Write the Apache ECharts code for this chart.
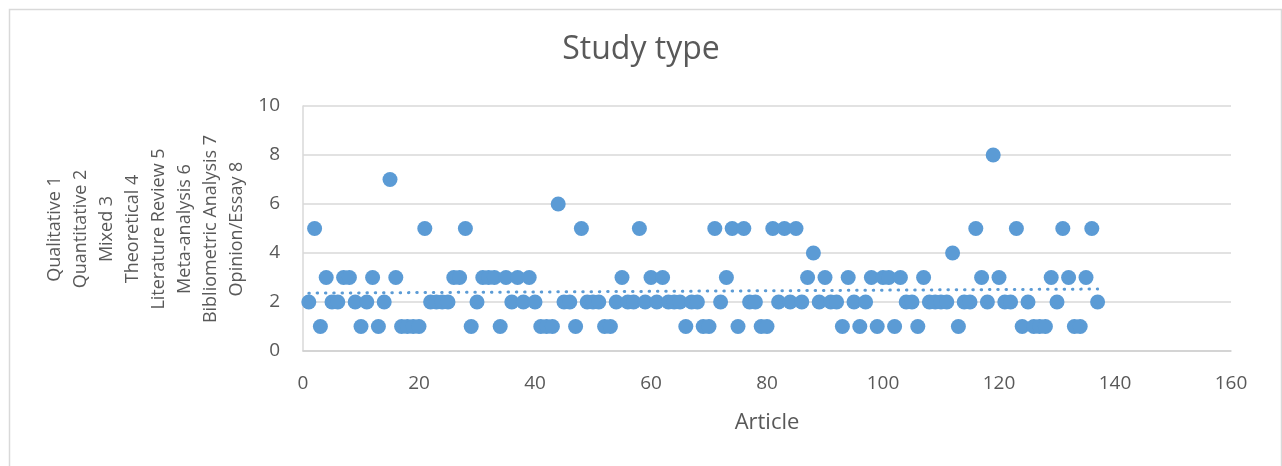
<!DOCTYPE html>
<html>
<head>
<meta charset="utf-8">
<script src="https://cdn.jsdelivr.net/npm/echarts@6/dist/echarts.min.js"></script>
<style>
html,body{margin:0;padding:0;background:#fff;}
#chart{width:1282px;height:466px;}
</style>
</head>
<body>
<div id="chart"></div>
<script>
// Study type code per article (article number = index + 1)
const studyTypes = [
  2,5,1,3,2,2,3,3,2,1,
  2,3,1,2,7,3,1,1,1,1,
  5,2,2,2,2,3,3,5,1,2,
  3,3,3,1,3,2,3,2,3,2,
  1,1,1,6,2,2,1,5,2,2,
  2,1,1,2,3,2,2,5,2,3,
  2,3,2,2,2,1,2,2,1,1,
  5,2,3,5,1,5,2,2,1,1,
  5,2,5,2,5,2,3,4,2,3,
  2,2,1,3,2,1,2,3,1,3,
  3,1,3,2,2,1,3,2,2,2,
  2,4,1,2,2,5,3,2,8,3,
  2,2,5,1,2,1,1,1,3,2,
  5,3,1,1,3,5,2
];
const articles = studyTypes.map((v, i) => i + 1);
const yAxisLegendLines = [
  'Qualitative 1', 'Quantitative 2', 'Mixed 3', 'Theoretical 4',
  'Literature Review 5', 'Meta-analysis 6', 'Bibliometric Analysis 7', 'Opinion/Essay 8'
];
const titleText = 'Study type';
const xAxisName = 'Article';

// linear trendline (least squares) from the data
const n = articles.length;
let sx = 0, sy = 0, sxx = 0, sxy = 0;
for (let i = 0; i < n; i++) {
  sx += articles[i]; sy += studyTypes[i];
  sxx += articles[i] * articles[i]; sxy += articles[i] * studyTypes[i];
}
const slope = (n * sxy - sx * sy) / (n * sxx - sx * sx);
const intercept = (sy - slope * sx) / n;
const xFirst = articles[0], xLast = articles[n - 1];
const trend = [[xFirst, intercept + slope * xFirst], [xLast, intercept + slope * xLast]];

const pts = articles.map((x, i) => [x, studyTypes[i]]);
const FONT = '"Open Sans", "Noto Sans", sans-serif';
const TXT = '#595959';

const chart = echarts.init(document.getElementById('chart'), null, {renderer: 'canvas'});
chart.setOption({
  animation: false,
  backgroundColor: '#ffffff',
  textStyle: {fontFamily: FONT},
  graphic: [{
    type: 'rect', left: 7, top: 7, silent: true, z: -10,
    shape: {width: 1272, height: 475},
    style: {fill: 'none', stroke: '#D9D9D9', lineWidth: 1.5}
  }, {
    type: 'text', x: 146, y: 229, rotation: Math.PI / 2, silent: true,
    style: {
      text: yAxisLegendLines.join('\n'),
      font: '18px "Open Sans", "Noto Sans", sans-serif',
      fill: TXT, align: 'center', verticalAlign: 'middle', lineHeight: 26
    }
  }],
  title: {
    text: titleText, left: 'center', top: 29,
    textStyle: {fontFamily: FONT, fontSize: 32, fontWeight: 'normal', color: TXT}
  },
  grid: {left: 303, right: 51, top: 106, bottom: 115, containLabel: false},
  xAxis: {
    type: 'value', min: 0, max: 160, interval: 20,
    name: xAxisName, nameLocation: 'middle', nameGap: 61,
    nameTextStyle: {fontFamily: FONT, fontSize: 22, color: TXT},
    axisLine: {show: true, onZero: false, lineStyle: {color: '#D0D0D0', width: 1.5}},
    axisTick: {show: false},
    axisLabel: {fontFamily: FONT, fontSize: 19, color: TXT, margin: 23},
    splitLine: {show: false}
  },
  yAxis: {
    type: 'value', min: 0, max: 10, interval: 2,
    axisLine: {show: true, lineStyle: {color: '#D9D9D9', width: 1.5}},
    axisTick: {show: false},
    axisLabel: {fontFamily: FONT, fontSize: 19, color: TXT, margin: 23},
    splitLine: {show: true, lineStyle: {color: '#D9D9D9', width: 1.5}}
  },
  series: [{
    type: 'scatter',
    data: pts,
    symbol: 'circle',
    symbolSize: 15,
    itemStyle: {color: '#5B9BD5', opacity: 1},
    z: 2
  }, {
    type: 'line',
    data: trend,
    symbol: 'none',
    silent: true,
    lineStyle: {color: '#5B9BD5', width: 3, type: [0.5, 7.8], cap: 'round'},
    z: 3
  }]
});
</script>
</body>
</html>
